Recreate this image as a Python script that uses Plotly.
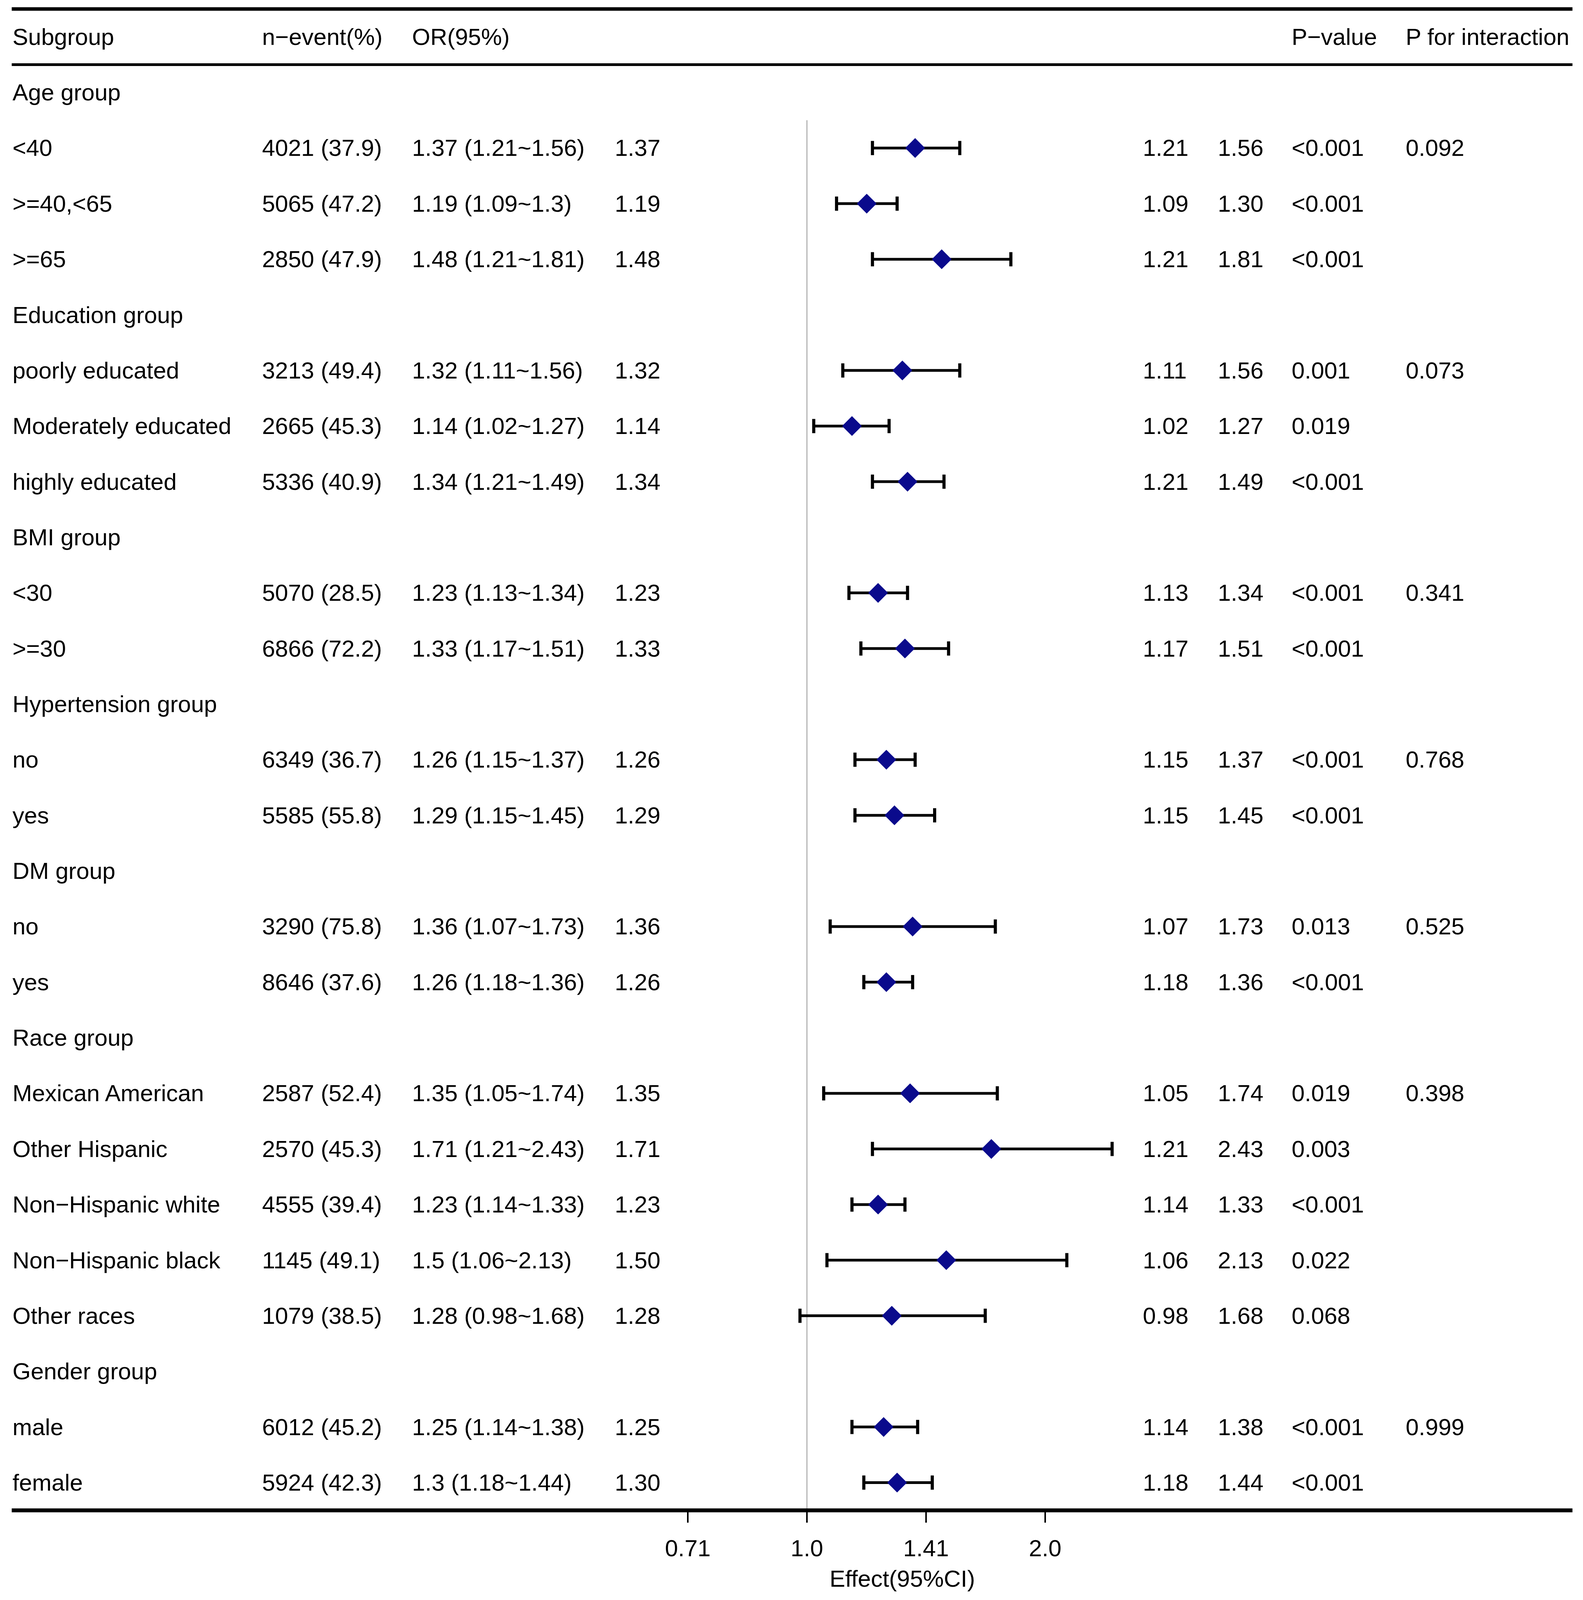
import math
import plotly.graph_objects as go

# the photographed part of the page is about 4053 x 4096 px, body margin 8 px
PAGE_W, PAGE_H, BODY = 4053, 4096, 8
FW, FH = PAGE_W - 2 * BODY, PAGE_H - 2 * BODY
SY = PAGE_H / 4693            # reference px -> page px, vertical
ROW0, ROWH = 108, 163.1       # reference px: centre of header row, row pitch
X1, PX_PER_DOUBLING = 2066, 610   # reference px of OR = 1 on the forest axis

headers = ["Subgroup", "n−event(%)", "OR(95%)", "", "", "", "P−value", "P for interaction"]

subgroup = ["Age group", "<40", ">=40,<65", ">=65",
            "Education group", "poorly educated", "Moderately educated", "highly educated",
            "BMI group", "<30", ">=30",
            "Hypertension group", "no", "yes",
            "DM group", "no", "yes",
            "Race group", "Mexican American", "Other Hispanic", "Non−Hispanic white",
            "Non−Hispanic black", "Other races",
            "Gender group", "male", "female"]

n_event = ["", "4021 (37.9)", "5065 (47.2)", "2850 (47.9)",
           "", "3213 (49.4)", "2665 (45.3)", "5336 (40.9)",
           "", "5070 (28.5)", "6866 (72.2)",
           "", "6349 (36.7)", "5585 (55.8)",
           "", "3290 (75.8)", "8646 (37.6)",
           "", "2587 (52.4)", "2570 (45.3)", "4555 (39.4)", "1145 (49.1)", "1079 (38.5)",
           "", "6012 (45.2)", "5924 (42.3)"]

or_text = ["", "1.37 (1.21~1.56)", "1.19 (1.09~1.3)", "1.48 (1.21~1.81)",
           "", "1.32 (1.11~1.56)", "1.14 (1.02~1.27)", "1.34 (1.21~1.49)",
           "", "1.23 (1.13~1.34)", "1.33 (1.17~1.51)",
           "", "1.26 (1.15~1.37)", "1.29 (1.15~1.45)",
           "", "1.36 (1.07~1.73)", "1.26 (1.18~1.36)",
           "", "1.35 (1.05~1.74)", "1.71 (1.21~2.43)", "1.23 (1.14~1.33)", "1.5 (1.06~2.13)",
           "1.28 (0.98~1.68)",
           "", "1.25 (1.14~1.38)", "1.3 (1.18~1.44)"]

est = [None, 1.37, 1.19, 1.48, None, 1.32, 1.14, 1.34, None, 1.23, 1.33, None, 1.26, 1.29,
       None, 1.36, 1.26, None, 1.35, 1.71, 1.23, 1.50, 1.28, None, 1.25, 1.30]
lower = [None, 1.21, 1.09, 1.21, None, 1.11, 1.02, 1.21, None, 1.13, 1.17, None, 1.15, 1.15,
         None, 1.07, 1.18, None, 1.05, 1.21, 1.14, 1.06, 0.98, None, 1.14, 1.18]
upper = [None, 1.56, 1.30, 1.81, None, 1.56, 1.27, 1.49, None, 1.34, 1.51, None, 1.37, 1.45,
         None, 1.73, 1.36, None, 1.74, 2.43, 1.33, 2.13, 1.68, None, 1.38, 1.44]

pval = ["", "<0.001", "<0.001", "<0.001", "", "0.001", "0.019", "<0.001", "", "<0.001", "<0.001",
        "", "<0.001", "<0.001", "", "0.013", "<0.001", "", "0.019", "0.003", "<0.001", "0.022",
        "0.068", "", "<0.001", "<0.001"]
p_int = ["", "0.092", "", "", "", "0.073", "", "", "", "0.341", "", "", "0.768", "", "",
         "0.525", "", "", "0.398", "", "", "", "", "", "0.999", ""]

tick_vals = [2 ** -0.5, 1.0, 2 ** 0.5, 2.0]
tick_labels = ["0.71", "1.0", "1.41", "2.0"]
x_title = "Effect(95%CI)"

col_x = [30, 669, 1053, 1572, 2924, 3116, 3305, 3597]   # reference px, left edges
FONT = dict(family="Liberation Sans, Arial, sans-serif", size=60, color="black")


def px(x_ref):
    # reference x pixel -> paper fraction of the figure
    return (x_ref - BODY) / FW


def fmt(v):
    return "" if v is None else "%.2f" % v


rows = list(range(1, len(subgroup) + 1))
columns = [subgroup, n_event, or_text, [fmt(v) for v in est], [fmt(v) for v in lower],
           [fmt(v) for v in upper], pval, p_int]

annotations = []
for cx, head, col in zip(col_x, headers, columns):
    cells = [(0, head)] + list(zip(rows, col))
    for r, t in cells:
        if t == "":
            continue
        annotations.append(dict(x=px(cx), xref="paper", y=r, yref="y", text=t,
                                showarrow=False, xanchor="left", yanchor="middle", font=FONT))
annotations.append(dict(x=px(2310), xref="paper", y=(4630 - ROW0) / ROWH, yref="y",
                        text=x_title, showarrow=False, xanchor="center", yanchor="middle",
                        font=FONT))

fig = go.Figure()

# reference line at OR = 1
fig.add_trace(go.Scatter(x=[1, 1], y=[1.5, 26.5], mode="lines",
                         line=dict(color="#b4b4b4", width=3), hoverinfo="skip"))

# confidence intervals
ci_x, ci_y, cap_x, cap_y = [], [], [], []
for r, lo, hi in zip(rows, lower, upper):
    if lo is None:
        continue
    ci_x += [lo, hi, None]
    ci_y += [r, r, None]
    cap_x += [lo, hi]
    cap_y += [r, r]
fig.add_trace(go.Scatter(x=ci_x, y=ci_y, mode="lines", line=dict(color="black", width=7)))
fig.add_trace(go.Scatter(x=cap_x, y=cap_y, mode="markers",
                         marker=dict(symbol="line-ns", size=26,
                                     line=dict(color="black", width=8))))

pts = [(r, e) for r, e in zip(rows, est) if e is not None]
fig.add_trace(go.Scatter(x=[p[1] for p in pts], y=[p[0] for p in pts], mode="markers",
                         marker=dict(symbol="diamond", size=39, color="#0a0a8c",
                                     line=dict(width=0))))

# horizontal rules
for r, w in [(-0.5, 9), (0.5, 7), (26.5, 10)]:
    fig.add_shape(type="line", xref="paper", yref="y", x0=px(30), x1=px(4026), y0=r, y1=r,
                  line=dict(color="black", width=w))

# row index -> figure pixel: p = A + B * r
A = ROW0 * SY - BODY
B = ROWH * SY

dom0, dom1 = 1700, 2920
lg0 = (dom0 - X1) / PX_PER_DOUBLING * math.log10(2)
lg1 = (dom1 - X1) / PX_PER_DOUBLING * math.log10(2)

fig.update_layout(
    width=FW, height=FH,
    margin=dict(l=0, r=0, t=0, b=0),
    paper_bgcolor="white", plot_bgcolor="white",
    showlegend=False,
    annotations=annotations,
    xaxis=dict(type="log", domain=[px(dom0), px(dom1)], range=[lg0, lg1],
               anchor="free", position=1 - (A + B * 26.5) / FH,
               showgrid=False, zeroline=False, showline=False,
               ticks="outside", ticklen=30, tickwidth=4, tickcolor="black",
               tickvals=tick_vals, ticktext=tick_labels, tickfont=FONT,
               ticklabelstandoff=14),
    yaxis=dict(range=[(FH - A) / B, -A / B], visible=False, domain=[0, 1]),
)

fig.write_html("out.html")
